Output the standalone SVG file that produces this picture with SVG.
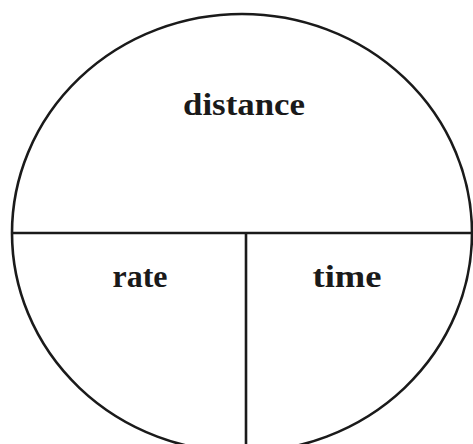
<svg xmlns="http://www.w3.org/2000/svg" width="473" height="444" viewBox="0 0 473 444">
<style>
.ln{fill:none;stroke:#1a1a1a;stroke-width:2.6}
.lb{font-family:"Liberation Serif","DejaVu Serif",serif;font-weight:bold;font-size:32px;fill:#1a1a1a;text-anchor:middle}
</style>
<rect width="473" height="444" fill="#fff"/>
<g id="circle">
<ellipse class="ln" cx="242" cy="233" rx="230" ry="219"/>
</g>
<g id="connectors">
<line class="ln" x1="12" y1="233" x2="473" y2="233"/>
<line class="ln" x1="246" y1="233" x2="246" y2="444"/>
</g>
<g id="distance"><text class="lb" x="244" y="115" textLength="122" lengthAdjust="spacingAndGlyphs">distance</text></g>
<g id="rate"><text class="lb" x="140" y="287" textLength="55" lengthAdjust="spacingAndGlyphs">rate</text></g>
<g id="time"><text class="lb" x="347" y="287" textLength="69" lengthAdjust="spacingAndGlyphs">time</text></g>
</svg>
